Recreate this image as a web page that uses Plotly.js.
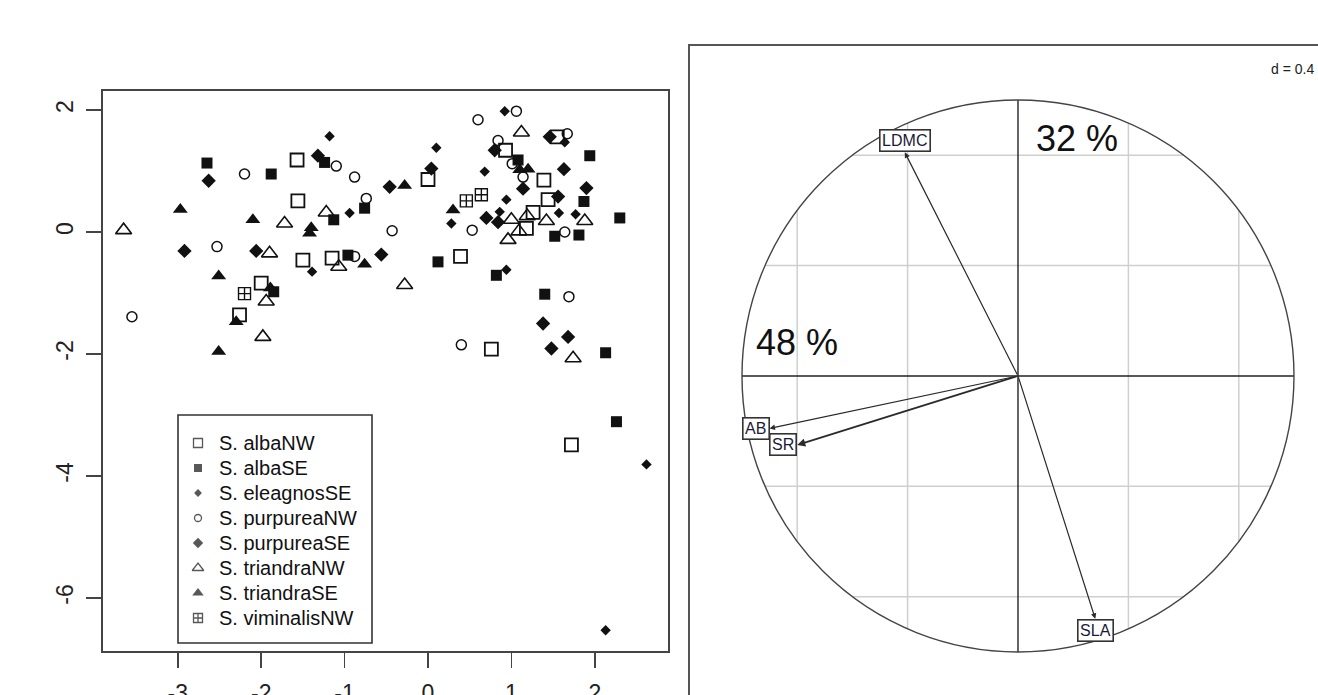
<!DOCTYPE html>
<html><head><meta charset="utf-8">
<script src="https://cdn.plot.ly/plotly-3.0.1.min.js"></script>
<style>html,body{margin:0;padding:0;background:#fff;overflow:hidden;} #chart{width:1318px;height:695px;}</style>
</head><body><div id="chart"></div>
<script>
// ---------- data: PCA scores (left panel) ----------
const species = ['S. albaNW','S. albaSE','S. eleagnosSE','S. purpureaNW','S. purpureaSE','S. triandraNW','S. triandraSE','S. viminalisNW'];

const albaNW_x = [-1.57,-1.56,-1.50,-2.00,-2.26,-1.15,0.00,0.39,0.93,1.39,1.26,1.18,1.44,1.55,0.76,1.72];
const albaNW_y = [1.18,0.51,-0.46,-0.84,-1.36,-0.43,0.86,-0.40,1.34,0.85,0.32,0.06,0.53,1.56,-1.92,-3.49];

const albaSE_x = [-2.65,-1.88,-1.24,-1.13,-0.76,-0.96,-1.85,0.12,0.82,1.08,1.87,1.94,2.30,1.52,1.81,1.40,2.13,2.26];
const albaSE_y = [1.13,0.95,1.14,0.20,0.39,-0.38,-0.98,-0.49,-0.71,1.18,0.50,1.25,0.23,-0.07,-0.05,-1.02,-1.98,-3.11];

const eleagnosSE_x = [-1.18,-0.94,-1.39,0.10,0.68,0.28,0.86,0.94,0.92,1.64,1.57,1.77,0.94,2.62,2.13];
const eleagnosSE_y = [1.57,0.31,-0.65,1.38,0.99,0.14,0.33,-0.62,1.98,1.47,0.31,0.29,0.53,-3.81,-6.53];

const purpureaNW_x = [-2.20,-2.53,-3.55,-1.10,-0.88,-0.74,-0.88,-0.43,0.60,1.06,0.84,1.01,1.14,0.53,1.67,1.64,1.69,0.40];
const purpureaNW_y = [0.95,-0.24,-1.39,1.08,0.90,0.55,-0.40,0.02,1.84,1.98,1.50,1.12,0.90,0.03,1.61,0.00,-1.06,-1.85];

const purpureaSE_x = [-2.63,-2.92,-2.06,-1.32,-0.46,-0.56,0.04,0.80,1.14,0.70,0.84,1.46,1.63,1.56,1.90,1.38,1.68,1.48];
const purpureaSE_y = [0.84,-0.31,-0.31,1.25,0.74,-0.37,1.04,1.34,0.71,0.23,0.16,1.56,1.03,0.58,0.72,-1.50,-1.72,-1.91];

const triandraNW_x = [-3.65,-1.90,-1.94,-1.98,-1.72,-1.22,-1.07,-0.28,1.12,1.00,1.19,1.09,0.96,1.42,1.88,1.74];
const triandraNW_y = [0.03,-0.35,-1.14,-1.72,0.14,0.32,-0.57,-0.87,1.63,0.20,0.26,0.01,-0.13,0.18,0.18,-2.07];

const triandraSE_x = [-2.97,-2.10,-2.51,-2.30,-2.51,-1.89,-1.42,-1.40,-0.76,-0.28,1.10,1.20,0.30];
const triandraSE_y = [0.37,0.20,-0.72,-1.47,-1.96,-0.92,-0.02,0.07,-0.53,0.76,1.02,1.03,0.36];

const viminalisNW_x = [-2.20,0.46,0.64];
const viminalisNW_y = [-1.01,0.51,0.61];

const xTickVals = [-3,-2,-1,0,1,2];
const xTickText = ['-3','-2','-1','0','1','2'];
const yTickVals = [-6,-4,-2,0,2];
const yTickText = ['-6','-4','-2','0','2'];

// ---------- data: correlation circle (right panel) ----------
const varNames = ['LDMC','SLA','AB','SR'];
const varAxis1 = [-0.41, 0.28, -0.90, -0.80];
const varAxis2 = [0.81, -0.88, -0.19, -0.25];
const inertiaLabels = ['48 %','32 %'];
const gridStep = 0.4;

// ---------- styles ----------
const FONT = 'Liberation Sans, Arial, sans-serif';
const W = 1318, H = 695;
const seriesX = [albaNW_x, albaSE_x, eleagnosSE_x, purpureaNW_x, purpureaSE_x, triandraNW_x, triandraSE_x, viminalisNW_x];
const seriesY = [albaNW_y, albaSE_y, eleagnosSE_y, purpureaNW_y, purpureaSE_y, triandraNW_y, triandraSE_y, viminalisNW_y];
const styles = [
  {symbol:'square-open', size:13, lw:1.8, leg:9},
  {symbol:'square', size:11, lw:0, leg:8},
  {symbol:'diamond', size:8, lw:0, leg:6},
  {symbol:'circle-open', size:10, lw:1.5, leg:7},
  {symbol:'diamond', size:11, lw:0, leg:8},
  {symbol:'triangle-up-open', size:14, lw:1.6, leg:10},
  {symbol:'triangle-up', size:13, lw:0, leg:10},
  {symbol:'square-cross-open', size:12, lw:1.4, leg:9}
];

const traces = [];
species.forEach((name, i) => {
  const s = styles[i];
  traces.push({
    type:'scatter', mode:'markers', x:seriesX[i], y:seriesY[i], xaxis:'x', yaxis:'y',
    name:name, showlegend:false, hoverinfo:'x+y+name',
    marker:{symbol:s.symbol, size:s.size, color:'#111', line:{color:'#222', width:s.lw}}
  });
});

// ---------- legend (drawn in a pixel-unit overlay subplot) ----------
const LEG = {x0:178, x1:372, y0:415, y1:643, symX:198, textX:217, firstY:443, step:25};
traces.push({
  type:'scatter', mode:'markers', xaxis:'x3', yaxis:'y3', showlegend:false, hoverinfo:'skip',
  x: species.map(() => LEG.symX),
  y: species.map((_, i) => LEG.firstY + i * LEG.step),
  marker:{symbol: styles.map(s => s.symbol), size: styles.map(s => s.leg), color:'#111',
          line:{color:'#222', width: styles.map(s => s.lw ? 1.3 : 0)}}
});

// ---------- right panel shapes ----------
const shapes = [];
shapes.push({type:'rect', xref:'paper', yref:'paper', x0:LEG.x0/W, x1:LEG.x1/W, y0:(H-LEG.y1)/H, y1:(H-LEG.y0)/H,
  line:{color:'#333', width:1.6}, fillcolor:'#ffffff', layer:'below'});
const gridVals = [];
for (let v = gridStep; v < 1; v += gridStep) { gridVals.push(v, -v); }
gridVals.forEach(v => {
  const h = Math.sqrt(1 - v*v);
  shapes.push({type:'line', xref:'x2', yref:'y2', x0:v, x1:v, y0:-h, y1:h, line:{color:'#cfcfcf', width:1.5}, layer:'below'});
  shapes.push({type:'line', xref:'x2', yref:'y2', x0:-h, x1:h, y0:v, y1:v, line:{color:'#cfcfcf', width:1.5}, layer:'below'});
});
shapes.push({type:'line', xref:'x2', yref:'y2', x0:-1, x1:1, y0:0, y1:0, line:{color:'#222', width:1.4}});
shapes.push({type:'line', xref:'x2', yref:'y2', x0:0, x1:0, y0:-1, y1:1, line:{color:'#222', width:1.4}});
shapes.push({type:'circle', xref:'x2', yref:'y2', x0:-1, x1:1, y0:-1, y1:1, line:{color:'#444', width:1.4}});
shapes.push({type:'rect', xref:'paper', yref:'paper', x0:689/W, x1:1.05, y0:-0.05, y1:(H-45)/H, line:{color:'#555', width:2}, fillcolor:'rgba(0,0,0,0)'});

const annotations = [];
species.forEach((name, i) => {
  annotations.push({xref:'paper', yref:'paper', x:LEG.textX/W, y:(H-(LEG.firstY + i*LEG.step))/H, text:name,
    showarrow:false, xanchor:'left', yanchor:'middle', font:{family:FONT, size:20, color:'#111'}});
});
varNames.forEach((n, i) => {
  const vx = varAxis1[i], vy = varAxis2[i];
  annotations.push({xref:'x2', yref:'y2', axref:'x2', ayref:'y2', x:vx, y:vy, ax:0, ay:0, text:'',
    showarrow:true, arrowhead:2, arrowsize:0.9, arrowwidth:(n==='SR'?1.8:1.2), arrowcolor:'#2a2a2a', standoff:0});
});
varNames.forEach((n, i) => {
  const vx = varAxis1[i], vy = varAxis2[i];
  const horiz = Math.abs(vx) > Math.abs(vy);
  annotations.push({xref:'x2', yref:'y2', x:vx, y:vy, text:n, showarrow:false,
    xanchor: horiz ? (vx < 0 ? 'right' : 'left') : 'center',
    yanchor: horiz ? 'middle' : (vy > 0 ? 'bottom' : 'top'),
    font:{family:FONT, size:16, color:'#1a1a3a'}, bgcolor:'#ffffff', bordercolor:'#333', borderwidth:1.6, borderpad:1.5});
});
annotations.push({xref:'x2', yref:'y2', x:-0.80, y:0.12, text:inertiaLabels[0], showarrow:false,
  font:{family:FONT, size:36, color:'#111'}, xanchor:'center', yanchor:'middle'});
annotations.push({xref:'x2', yref:'y2', x:0.215, y:0.86, text:inertiaLabels[1], showarrow:false,
  font:{family:FONT, size:36, color:'#111'}, xanchor:'center', yanchor:'middle'});
annotations.push({xref:'paper', yref:'paper', x:1316/W, y:(H-69)/H, text:'d = ' + gridStep, showarrow:false,
  font:{family:FONT, size:14, color:'#222'}, xanchor:'right', yanchor:'middle'});

const layout = {
  width:W, height:H, margin:{l:0, r:0, t:0, b:0}, paper_bgcolor:'#fff', plot_bgcolor:'rgba(0,0,0,0)',
  font:{family:FONT, color:'#222'}, showlegend:false,
  xaxis:{domain:[103/W, 668/W], range:[-3.897, 2.878], showgrid:false, zeroline:false,
    showline:true, mirror:true, linecolor:'#444', linewidth:2,
    ticks:'outside', ticklen:15, tickwidth:1.5, tickcolor:'#444',
    tickmode:'array', tickvals:xTickVals, ticktext:xTickText, tickfont:{family:FONT, size:23, color:'#222'},
    ticklabelstandoff:5},
  yaxis:{domain:[(H-651)/H, (H-91)/H], range:[-6.869, 2.311], showgrid:false, zeroline:false,
    showline:true, mirror:true, linecolor:'#444', linewidth:2,
    ticks:'outside', ticklen:15, tickwidth:1.5, tickcolor:'#444',
    tickmode:'array', tickvals:yTickVals, ticktext:yTickText, tickangle:-90, tickfont:{family:FONT, size:23, color:'#222'},
    ticklabelstandoff:4},
  xaxis2:{domain:[689/W, 1], range:[-1.192, 1.087], anchor:'y2', visible:false, fixedrange:true},
  yaxis2:{domain:[0, (H-45)/H], range:[-1.156, 1.199], anchor:'x2', visible:false, fixedrange:true},
  xaxis3:{domain:[0, 1], range:[0, W], anchor:'y3', visible:false, fixedrange:true},
  yaxis3:{domain:[0, 1], range:[H, 0], anchor:'x3', visible:false, fixedrange:true},
  shapes:shapes, annotations:annotations
};

Plotly.newPlot('chart', traces, layout, {displayModeBar:false, staticPlot:true});
</script>
</body></html>
